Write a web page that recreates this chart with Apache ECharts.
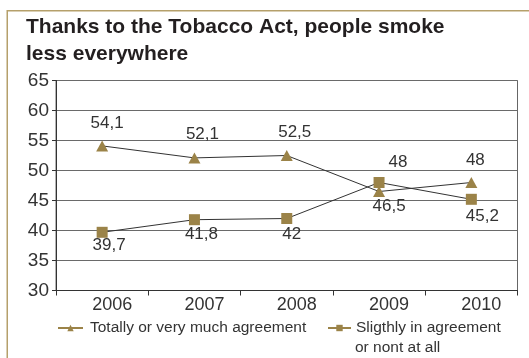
<!DOCTYPE html>
<html><head><meta charset="utf-8">
<script src="https://cdn.jsdelivr.net/npm/echarts@6/dist/echarts.min.js"></script>
<style>html,body{margin:0;padding:0;background:#fff}#c{width:529px;height:358px}</style>
</head><body><div id="c"></div>
<script>
const years = ['2006', '2007', '2008', '2009', '2010'];
const totallyAgree = [54.1, 52.1, 52.5, 46.5, 48];
const slightlyAgree = [39.7, 41.8, 42, 48, 45.2];
const yTicks = {min: 30, max: 65, interval: 5};
const seriesNames = ['Totally or very much agreement', 'Sligthly in agreement'];
const legendSecondLine = 'or nont at all';

const gold = '#9b8348';
const font = '"Liberation Sans", Arial, sans-serif';
const fmt = p => String(p.value).replace('.', ',');

// label placement per point, relative to marker centre (style only)
const topLabelOffsets = [[5, -23], [8, -24], [8, -23], [10, 15], [4, -22]];
const botLabelOffsets = [[7, 13], [7, 15], [5, 16], [19, -20], [11, 17]];

const chart = echarts.init(document.getElementById('c'), null, {renderer: 'canvas'});
chart.setOption({
  animation: false,
  textStyle: {fontFamily: font},
  graphic: [{
    type: 'rect', left: 6.5, top: 10, z: -1,
    shape: {width: 540, height: 360},
    style: {fill: '#fff', stroke: '#b5a06b', lineWidth: 1.5}
  }, {
    type: 'text', x: 26, y: 13.5,
    style: {
      text: 'Thanks to the Tobacco Act, people smoke\nless everywhere',
      font: 'bold 21px ' + font, fill: '#231f20', lineHeight: 27, verticalAlign: 'top'
    }
  }, {
    type: 'text', x: 355, y: 348,
    style: {text: legendSecondLine, font: '15.5px ' + font, fill: '#333', verticalAlign: 'middle'}
  }],
  grid: {left: 56, right: 11.5, top: 80.5, bottom: 67.5, show: true, borderColor: '#666', borderWidth: 1},
  xAxis: {
    type: 'category', data: years, boundaryGap: true,
    axisLine: {lineStyle: {color: '#333'}},
    axisTick: {show: true, length: 5, lineStyle: {color: '#333'}},
    axisLabel: {fontSize: 18, color: '#333', margin: 6, fontFamily: font, padding: [0, 0, 0, 20]}
  },
  yAxis: {
    type: 'value', min: yTicks.min, max: yTicks.max, interval: yTicks.interval,
    axisLine: {show: true, lineStyle: {color: '#333'}},
    axisTick: {show: true, length: 4, lineStyle: {color: '#333'}},
    axisLabel: {fontSize: 19, color: '#333', margin: 7, fontFamily: font},
    splitLine: {lineStyle: {color: '#6a6a6a', width: 1}}
  },
  legend: [{
    data: [seriesNames[0]], left: 57, top: 320, padding: 0, itemWidth: 25, itemHeight: 8,
    textStyle: {fontSize: 15.5, color: '#333', fontFamily: font, padding: [0, 0, 0, 2]},
    lineStyle: {color: gold, width: 2}
  }, {
    data: [seriesNames[1]], left: 327, top: 320, padding: 0, itemWidth: 23, itemHeight: 8,
    textStyle: {fontSize: 15.5, color: '#333', fontFamily: font},
    lineStyle: {color: gold, width: 2}
  }],
  series: [{
    name: seriesNames[0], type: 'line',
    data: totallyAgree.map((v, i) => ({value: v, label: {offset: topLabelOffsets[i]}})),
    symbol: 'triangle', symbolSize: [12, 11],
    lineStyle: {color: '#333', width: 1},
    itemStyle: {color: gold},
    label: {show: true, position: 'inside', fontSize: 17, color: '#333', formatter: fmt},
    z: 3
  }, {
    name: seriesNames[1], type: 'line',
    data: slightlyAgree.map((v, i) => ({value: v, label: {offset: botLabelOffsets[i]}})),
    symbol: 'rect', symbolSize: 11,
    lineStyle: {color: '#333', width: 1},
    itemStyle: {color: gold},
    label: {show: true, position: 'inside', fontSize: 17, color: '#333', formatter: fmt},
    z: 4
  }]
});
</script></body></html>
